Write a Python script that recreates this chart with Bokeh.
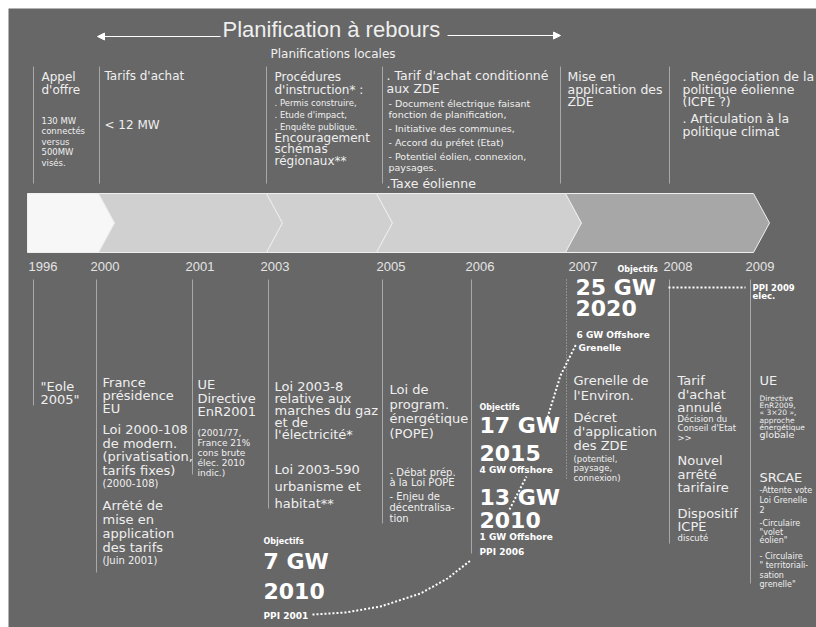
from bokeh.plotting import figure
from bokeh.models import Range1d, ColumnDataSource, Arrow, NormalHead
from bokeh.core.properties import value
from bokeh.embed import file_html
from bokeh.resources import INLINE

# ------------------------------------------------------------------ data
title = "Planification à rebours"
subtitle = "Planifications locales"
years = ["1996", "2000", "2001", "2003", "2005", "2006", "2007", "2008", "2009"]

# upper (planning) column texts
appel_big = ["Appel", "d'offre"]
appel_small = ["130 MW", "connectés", "versus", "500MW", "visés."]
tarifs_big = ["Tarifs d'achat"]
tarifs_mw = ["< 12 MW"]
proc_big = ["Procédures", "d'instruction* :"]
proc_small = [". Permis construire,", ". Etude d'impact,", ". Enquête publique."]
proc_big2 = ["Encouragement", "schémas", "régionaux**"]
zde_big = [". Tarif d'achat conditionné", "aux ZDE"]
zde_small1 = ["- Document électrique faisant", "fonction de planification,"]
zde_small2 = ["- Initiative des communes,", "- Accord du préfet (Etat)", "- Potentiel éolien, connexion,"]
zde_small3 = ["paysages."]
zde_big2 = [".Taxe éolienne"]
mise_big = ["Mise en", "application des", "ZDE"]
reneg_big = [". Renégociation de la", "politique éolienne", "(ICPE ?)"]
reneg_big2 = [". Articulation à la", "politique climat"]

# lower (events) column texts
eole = ['"Eole', '2005"']
fr_big1 = ["France", "présidence", "EU"]
fr_big2 = ["Loi 2000-108", "de modern.", "(privatisation,", "tarifs fixes)"]
fr_small1 = ["(2000-108)"]
fr_big3 = ["Arrêté de", "mise en", "application", "des tarifs"]
fr_small2 = ["(Juin 2001)"]
ue01_big = ["UE", "Directive", "EnR2001"]
ue01_small = ["(2001/77,", "France 21%", "cons brute", "élec. 2010", "indic.)"]
loi03_a = ["Loi 2003-8", "relative aux", "marches du gaz", "et de", "l'électricité*"]
loi03_b = ["Loi 2003-590", "urbanisme et", "habitat**"]
pope_big = ["Loi de", "program.", "énergétique", "(POPE)"]
pope_small1 = ["- Débat prép.", "à la Loi POPE"]
pope_small2 = ["- Enjeu de", "décentralisa-", "tion"]
gren_big1 = ["Grenelle de", "l'Environ."]
gren_big2 = ["Décret", "d'application", "des ZDE"]
gren_small = ["(potentiel,", "paysage,", "connexion)"]
t08_big1 = ["Tarif", "d'achat", "annulé"]
t08_small1 = ["Décision du", "Conseil d'Etat", ">>"]
t08_big2 = ["Nouvel", "arrêté", "tarifaire"]
t08_big3 = ["Dispositif", "ICPE"]
t08_small2 = ["discuté"]
ue09_big = ["UE"]
ue09_small = ["Directive", "EnR2009,", "« 3×20 »,", "approche", "énergétique"]
ue09_mid = ["globale"]
srcae_big = ["SRCAE"]
srcae_1 = ["-Attente vote", "Loi Grenelle", "2"]
srcae_2 = ["-Circulaire", '"volet', 'éolien"']
srcae_3 = ["- Circulaire", '" territoriali-', "sation", 'grenelle"']

# objectives (PPI targets)
obj_label = "Objectifs"
ppi2001 = ["7 GW", "2010"]
ppi2001_name = "PPI 2001"
ppi2006_a = ["17 GW", "2015"]
ppi2006_a_off = "4 GW Offshore"
ppi2006_b = ["13 GW", "2010"]
ppi2006_b_off = "1 GW Offshore"
ppi2006_name = "PPI 2006"
gren_obj = ["25 GW", "2020"]
gren_off = "6 GW Offshore"
gren_name = "Grenelle"
ppi2009 = ["PPI 2009", "elec."]

# ------------------------------------------------------------------ layout
BG = "#676767"
TXT = "#efefef"
LINE = "#a8a8a8"
BODY = "DejaVu Sans"

year_x = [28, 90, 185, 260, 376, 465, 568, 663, 745]
year_y = 266
upper_line_x = [33, 99, 266, 382, 560, 669]
upper_top, upper_bot = 66, 183
lower_line_x = [33, 96, 192, 268, 382, 471, 669, 750]
lower_line_bot = [405, 572, 474, 508, 523, 553, 543, 583]
lower_top = 279
band_bounds = [27, 98, 266, 376, 565, 753]
band_colors = ["#f7f7f7", "#d0d0d0", "#d0d0d0", "#d0d0d0", "#a7a7a7"]
band_top, band_bot, notch = 193, 252, 16

p = figure(width=816, height=627, x_range=Range1d(8, 816), y_range=Range1d(627, 8),
           output_backend="svg", toolbar_location=None,
           min_border_left=8, min_border_top=8, min_border_right=0, min_border_bottom=0,
           x_axis_type=None, y_axis_type=None,
           background_fill_color=BG, border_fill_color="white", outline_line_color=None)
p.grid.visible = False

# phase band (chevrons)
xs, ys = [], []
mid = (band_top + band_bot) / 2
for i in range(len(band_colors)):
    b0, b1 = band_bounds[i], band_bounds[i + 1]
    if i == 0:
        xs.append([b0, b1, b1 + notch, b1, b0])
        ys.append([band_top, band_top, mid, band_bot, band_bot])
    else:
        xs.append([b0, b1, b1 + notch, b1, b0, b0 + notch])
        ys.append([band_top, band_top, mid, band_bot, band_bot, mid])
p.patches(xs, ys, fill_color=band_colors, line_color="#efefef", line_width=1)

# vertical separators
p.segment(x0=upper_line_x, y0=[upper_top] * len(upper_line_x),
          x1=upper_line_x, y1=[upper_bot] * len(upper_line_x), line_color=LINE, line_width=1)
p.segment(x0=lower_line_x, y0=[lower_top] * len(lower_line_x),
          x1=lower_line_x, y1=lower_line_bot, line_color=LINE, line_width=1)
p.segment(x0=[566], y0=[lower_top], x1=[566], y1=[480], line_color="#bbbbbb",
          line_width=1, line_dash="1 2")

# title + arrows
p.text(x=[222], y=[29], text=[title], text_color=TXT, text_font=value("Liberation Sans"),
       text_font_size="22px", text_baseline="middle")
p.text(x=[270], y=[53], text=[subtitle], text_color=TXT, text_font=value(BODY),
       text_font_size="12px", text_baseline="middle")
p.add_layout(Arrow(end=NormalHead(size=7, fill_color="white", line_color="white"),
                   x_start=220, y_start=36, x_end=97, y_end=36, line_color="white", line_width=1))
p.add_layout(Arrow(end=NormalHead(size=7, fill_color="white", line_color="white"),
                   x_start=447, y_start=35, x_end=560, y_end=35, line_color="white", line_width=1))

# years
p.text(x=year_x, y=[year_y] * len(years), text=years, text_color="#e4e4e4",
       text_font=value("Liberation Sans"), text_font_size="13px", text_baseline="middle")

# dotted trajectory of targets
p.line([312, 345, 380, 420, 447, 470], [614, 612, 606, 593, 578, 560],
       line_color="white", line_width=2, line_dash="2 2")
p.line([509, 526], [509, 476], line_color="white", line_width=2, line_dash="2 2")
p.line([547, 560, 576], [417, 375, 343], line_color="white", line_width=2, line_dash="2 2")
p.line([668, 745], [287, 287], line_color="white", line_width=2, line_dash="2 2")

# text blocks: (lines, x, y0, dy, size, bold)
blocks = [
    (appel_big, 41, 76, 13, 12, False),
    (appel_small, 41, 120, 10.5, 8.5, False),
    (tarifs_big, 104, 75, 13, 12, False),
    (tarifs_mw, 104, 124, 13, 12, False),
    (proc_big, 274, 76, 13, 12, False),
    (proc_small, 274, 102, 12, 8.5, False),
    (proc_big2, 274, 137, 11.5, 12, False),
    (zde_big, 386, 75, 13, 12.5, False),
    (zde_small1, 388, 103, 10.5, 9.5, False),
    (zde_small2, 388, 128, 14, 9.5, False),
    (zde_small3, 388, 167, 10, 9.5, False),
    (zde_big2, 386, 183, 13, 12.5, False),
    (mise_big, 567, 76, 12.5, 12.5, False),
    (reneg_big, 682, 76, 12.5, 12.5, False),
    (reneg_big2, 682, 118, 13, 12.5, False),
    (eole, 40, 386, 13, 13, False),
    (fr_big1, 102, 382, 13, 13, False),
    (fr_big2, 102, 429, 13.7, 13, False),
    (fr_small1, 102, 483, 10, 10, False),
    (fr_big3, 102, 505, 14, 13, False),
    (fr_small2, 102, 560, 10, 10, False),
    (ue01_big, 197, 384, 13.5, 13, False),
    (ue01_small, 197, 432, 10, 9, False),
    (loi03_a, 274, 386, 12, 13, False),
    (loi03_b, 274, 469, 17, 13, False),
    (pope_big, 389, 389, 14.5, 13, False),
    (pope_small1, 389, 472, 10, 10, False),
    (pope_small2, 389, 496, 11, 10, False),
    (gren_big1, 573, 380, 15, 13, False),
    (gren_big2, 573, 417, 14, 13, False),
    (gren_small, 573, 458, 9.5, 8.5, False),
    (t08_big1, 677, 380, 13.5, 13, False),
    (t08_small1, 677, 418, 9.5, 8.5, False),
    (t08_big2, 677, 460, 13.5, 13, False),
    (t08_big3, 677, 513, 13, 13, False),
    (t08_small2, 677, 537, 10, 8.5, False),
    (ue09_big, 759, 380, 13, 13, False),
    (ue09_small, 759, 398, 7.2, 7.5, False),
    (ue09_mid, 759, 434, 10, 9.5, False),
    (srcae_big, 759, 477, 13, 13, False),
    (srcae_1, 759, 490, 9.5, 8, False),
    (srcae_2, 759, 523, 8.7, 8, False),
    (srcae_3, 759, 556, 9.3, 8, False),
    # objectives
    ([obj_label], 263, 541, 10, 8, True),
    (ppi2001, 263, 561, 29, 22, True),
    ([ppi2001_name], 263, 615, 10, 9, True),
    ([obj_label], 479, 407, 10, 8, True),
    (ppi2006_a, 479, 425, 27, 22, True),
    ([ppi2006_a_off], 479, 469, 10, 9, True),
    (ppi2006_b, 479, 497, 22, 22, True),
    ([ppi2006_b_off], 479, 536, 10, 9, True),
    ([ppi2006_name], 479, 551, 10, 9, True),
    ([obj_label], 617, 269, 10, 8, True),
    (gren_obj, 575, 287, 20.5, 22, True),
    ([gren_off], 576, 334, 10, 9, True),
    ([gren_name], 578, 347, 10, 9, True),
    (ppi2009, 752, 287, 8.5, 8.5, True),
]

rows = dict(x=[], y=[], text=[], size=[], style=[], color=[])
for lines, x, y0, dy, size, bold in blocks:
    for k, t in enumerate(lines):
        rows["x"].append(x)
        rows["y"].append(y0 + k * dy)
        rows["text"].append(t)
        rows["size"].append(f"{size}px")
        rows["style"].append("bold" if bold else "normal")
        rows["color"].append("#ffffff" if bold else TXT)
src = ColumnDataSource(rows)
p.text(x="x", y="y", text="text", source=src, text_font=value(BODY), text_font_size="size",
       text_font_style="style", text_color="color", text_baseline="middle")

html = file_html(p, INLINE)
open("out.html", "w").write(html)
